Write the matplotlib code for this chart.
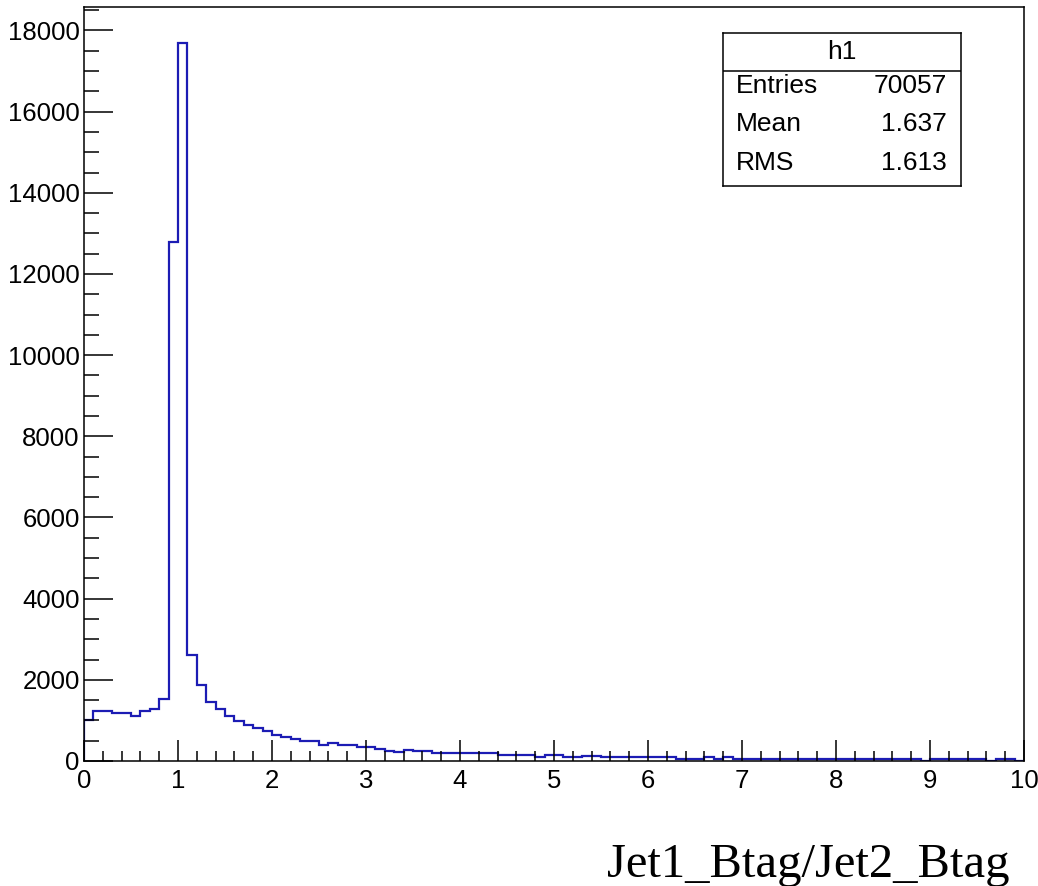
import numpy as np
import matplotlib
matplotlib.use("Agg")
import matplotlib.pyplot as plt
from matplotlib.ticker import MultipleLocator

# h1 : Jet1_Btag/Jet2_Btag, 100 equal bins between x_lo and x_hi
x_lo, x_hi = 0.0, 10.0
counts = [
    1000, 1225, 1225, 1190, 1190, 1110, 1220, 1280, 1525, 12800,
    17700, 2615, 1880, 1460, 1270, 1120, 975, 878, 820, 733,
    642, 584, 535, 485, 485, 385, 440, 400, 400, 338,
    338, 285, 255, 230, 270, 235, 235, 202, 202, 202,
    202, 202, 202, 202, 156, 156, 156, 156, 107, 150,
    150, 100, 100, 130, 130, 100, 100, 100, 100, 100,
    100, 100, 100, 55, 55, 55, 95, 55, 95, 42,
    42, 42, 42, 42, 42, 42, 42, 42, 42, 42,
    42, 42, 42, 42, 42, 42, 42, 42, 42, 0,
    42, 42, 42, 42, 42, 42, 0, 42, 42, 0,
]
hist_name = "h1"
stats_labels = ["Entries", "Mean", "RMS"]
stats_values = ["70057", "1.637", "1.613"]
x_title = "Jet1_Btag/Jet2_Btag"

SANS = "Liberation Sans"
SERIF = "Liberation Serif"
LINE_BLUE = "#1c1cb4"

edges = np.linspace(x_lo, x_hi, len(counts) + 1)

fig = plt.figure(figsize=(10.38, 8.86), dpi=100)
ax = fig.add_axes([0.0809, 0.1411, 0.9056, 0.8513])

ax.stairs(counts, edges, color=LINE_BLUE, linewidth=1.6, baseline=0)
ax.set_xlim(x_lo, x_hi)
ax.set_ylim(0, 1.05 * max(counts))

# ROOT-like axes: inward ticks, only bottom and left
ax.xaxis.set_major_locator(MultipleLocator(1))
ax.xaxis.set_minor_locator(MultipleLocator(0.2))
ax.yaxis.set_major_locator(MultipleLocator(2000))
ax.yaxis.set_minor_locator(MultipleLocator(500))
ax.tick_params(axis="x", which="major", direction="in", length=15, width=1.1, pad=6)
ax.tick_params(axis="x", which="minor", direction="in", length=7.5, width=1.1)
ax.tick_params(axis="y", which="major", direction="in", length=21, width=1.1, pad=3)
ax.tick_params(axis="y", which="minor", direction="in", length=10.5, width=1.1)
for lab in ax.get_xticklabels() + ax.get_yticklabels():
    lab.set_fontfamily(SANS)
    lab.set_fontsize(18.5)
for sp in ax.spines.values():
    sp.set_linewidth(1.1)

# stats box
sax = fig.add_axes([0.6968, 0.7904, 0.229, 0.1727])
sax.set_xlim(0, 1)
sax.set_ylim(0, 1)
sax.set_xticks([])
sax.set_yticks([])
for sp in sax.spines.values():
    sp.set_linewidth(1.1)
sax.axhline(0.752, color="black", linewidth=1.1)
sax.text(0.5, 0.876, hist_name, ha="center", va="center", fontsize=19, family=SANS)
row_y = [0.652, 0.401, 0.150]
for lbl, val, yy in zip(stats_labels, stats_values, row_y):
    sax.text(0.053, yy, lbl, ha="left", va="center", fontsize=19, family=SANS)
    sax.text(0.942, yy, val, ha="right", va="center", fontsize=19, family=SANS)

fig.text(0.9725, 0.0098, x_title, ha="right", va="baseline", fontsize=35, family=SERIF)

fig.savefig("out.png", dpi=100)
plt.close(fig)
